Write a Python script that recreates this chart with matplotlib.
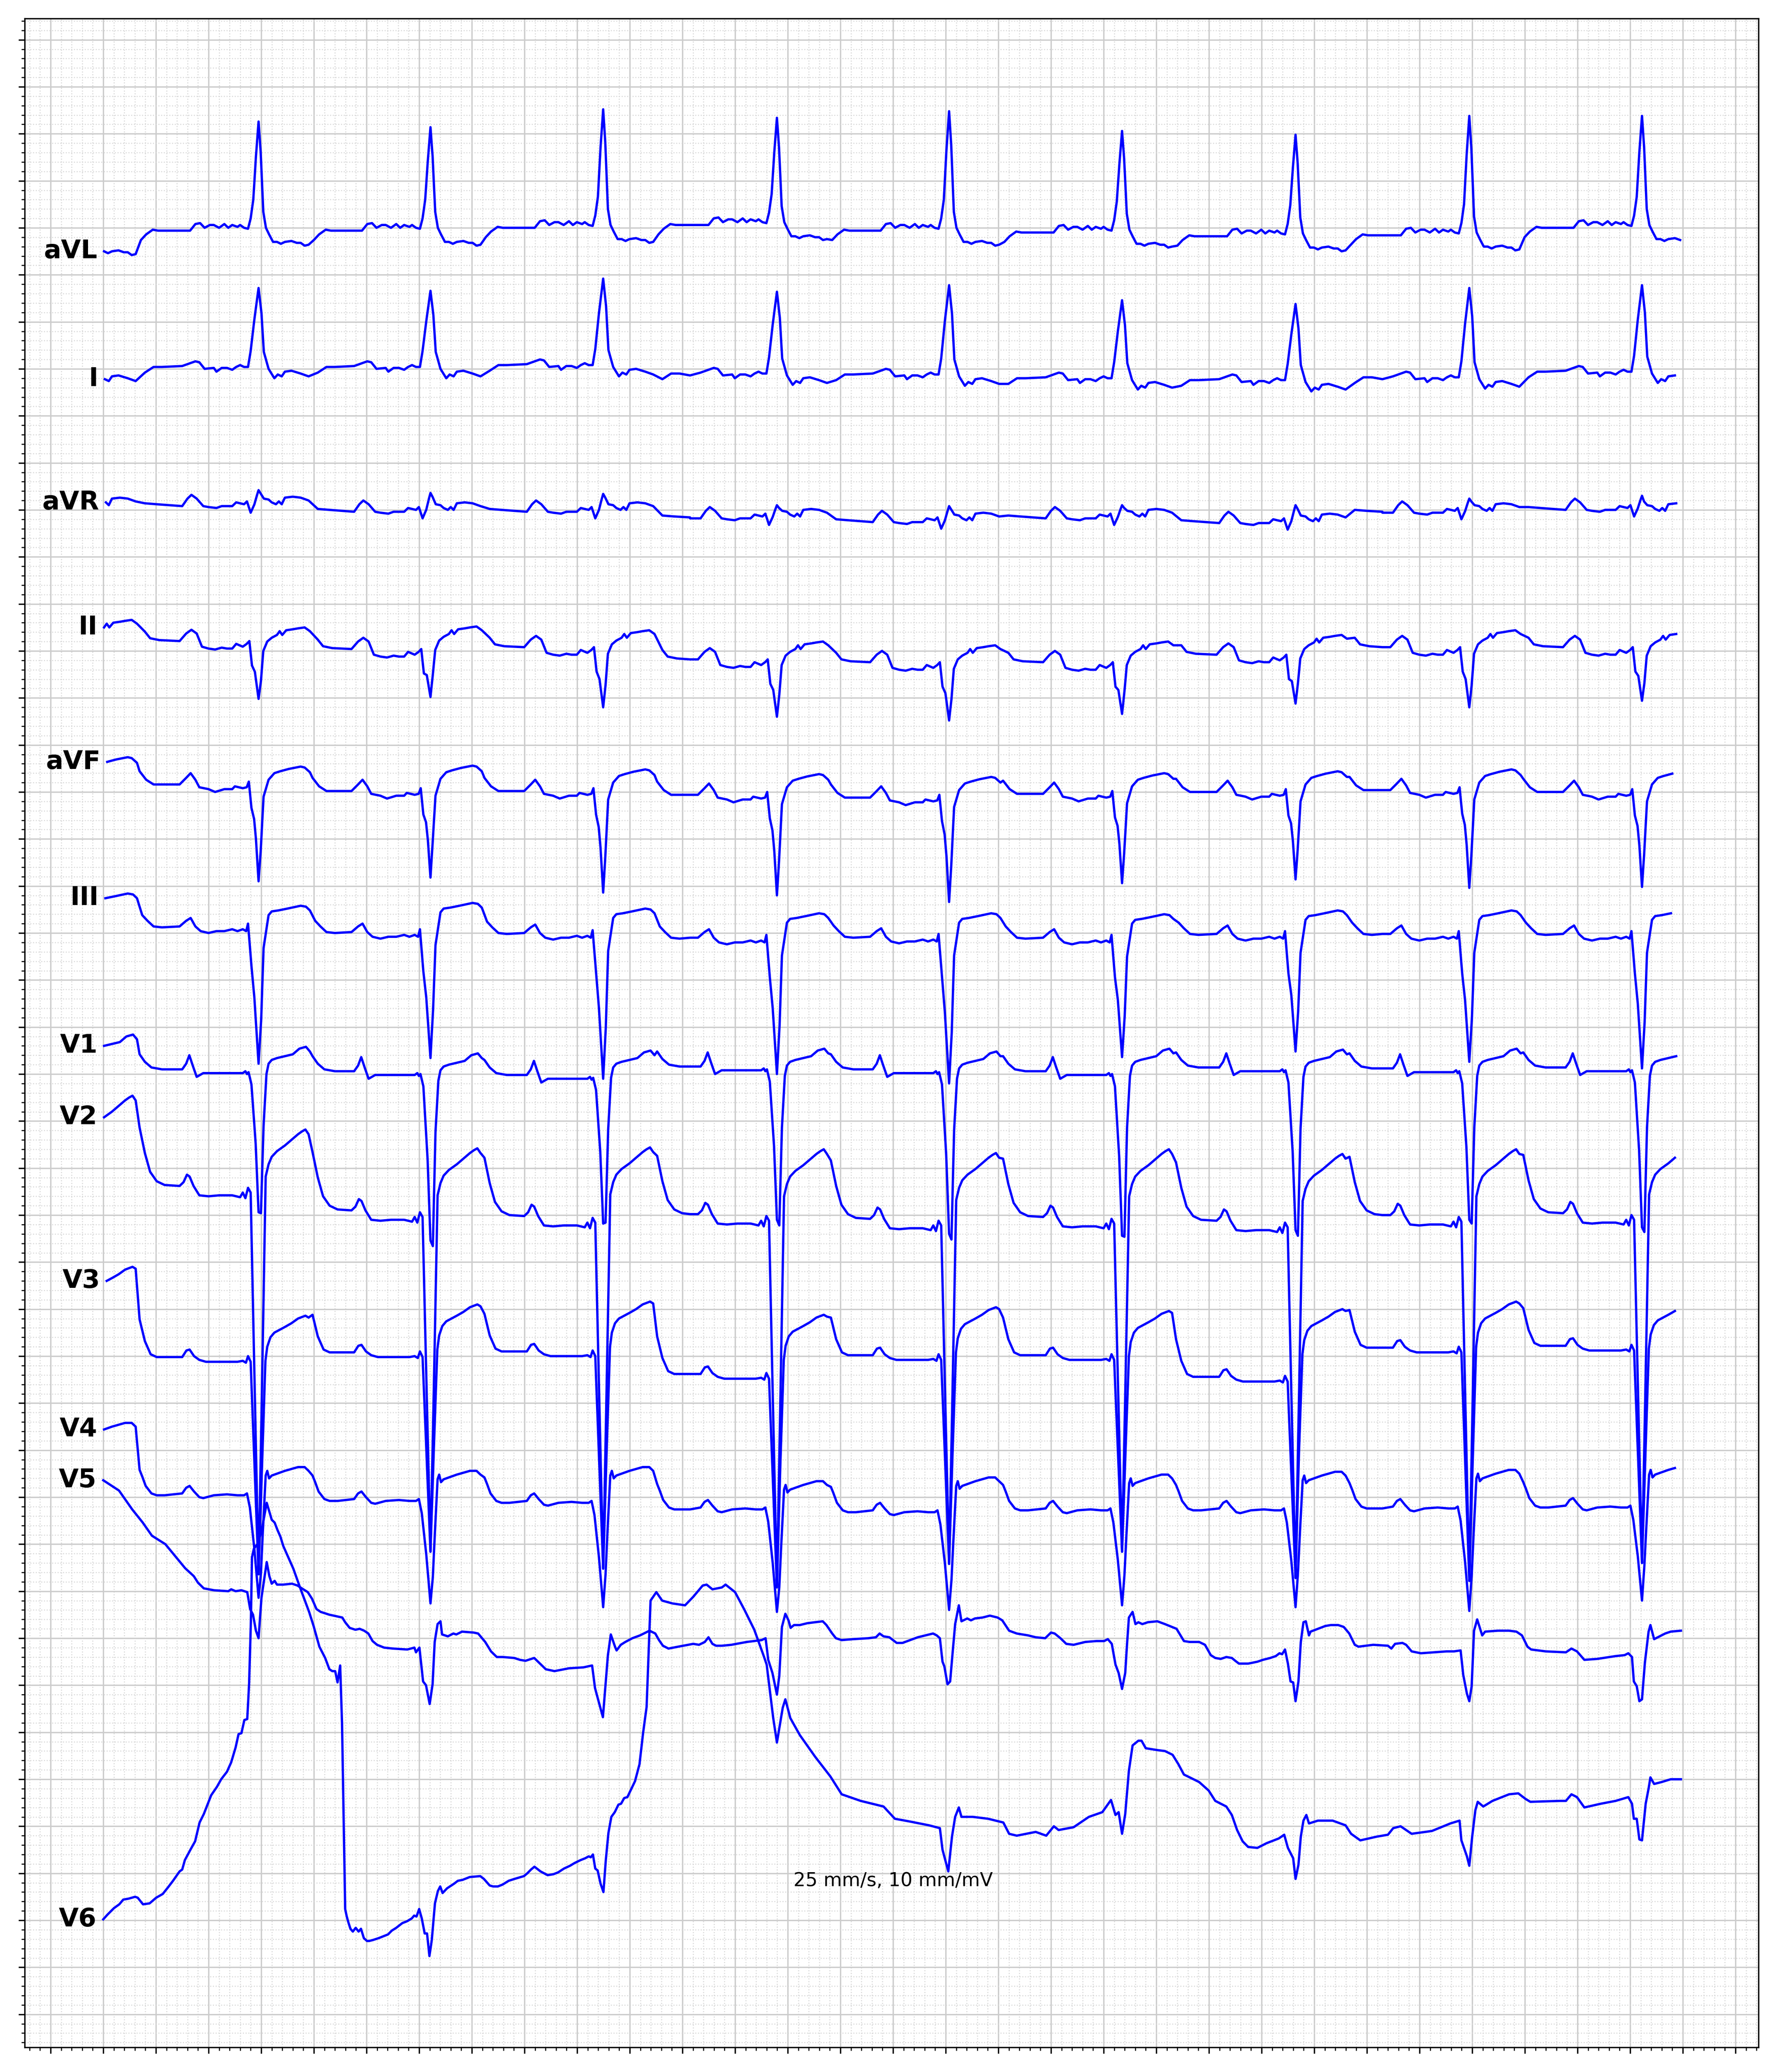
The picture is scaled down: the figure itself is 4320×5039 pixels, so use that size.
import numpy as np
import matplotlib as mpl
mpl.use('Agg')
from matplotlib import pyplot as plt
from matplotlib.ticker import MultipleLocator

# R-peak times (s), shared by every lead
r_times = [0.590, 1.243, 1.899, 2.559, 3.213, 3.870, 4.529, 5.189, 5.845]
t_last = 5.994

leads = ['aVL', 'I', 'aVR', 'II', 'aVF', 'III', 'V1', 'V2', 'V3', 'V4', 'V5', 'V6']
lead_gap = 1.5  # mV between rows

# beat shape per lead: time from R (s) and mV above the local level
# *_pr  : PR level of beats 1..9, last one is the level after the strip
# *_st  : ST-T level of beats 0..9 (beat 0 = the beat just before the strip)
# *_qrs : R / S extreme of beats 1..9
avl_dt = [-0.33, -0.29, -0.26, -0.24, -0.222, -0.205, -0.185, -0.17, -0.15, -0.13, -0.115, -0.10, -0.08,
          -0.07, -0.055, -0.04, -0.03, -0.02, -0.01, 0.0, 0.008, 0.018, 0.028, 0.04, 0.055, 0.07, 0.085,
          0.10, 0.125, 0.145, 0.16, 0.175, 0.19, 0.21, 0.23, 0.255, 0.275, 0.30, 0.33]
avl_mv = [-0.03, -0.03, -0.03, 0.04, 0.05, 0.0, 0.03, 0.03, 0.0, 0.04, 0.0, 0.03, 0.01,
          0.03, 0.0, -0.01, 0.1, 0.3, 0.75, 1.12, 0.8, 0.17, 0.0, -0.07, -0.15, -0.15, -0.17,
          -0.15, -0.14, -0.16, -0.16, -0.19, -0.18, -0.13, -0.07, -0.02, -0.03, -0.03, -0.03]
avl_pr = [0.0, 0.0, 0.03, 0.06, 0.0, -0.02, -0.06, -0.05, 0.03, 0.0]
avl_st = [-0.1, 0.0, 0.0, 0.03, 0.06, 0.0, -0.02, -0.06, -0.05, 0.03]
avl_qrs = [1.13, 1.07, 1.26, 1.17, 1.24, 1.03, 0.99, 1.19, 1.19]

i_dt = [-0.33, -0.29, -0.26, -0.24, -0.225, -0.205, -0.17, -0.16, -0.14, -0.12, -0.10, -0.085, -0.07,
        -0.055, -0.04, -0.03, -0.016, 0.0, 0.011, 0.02, 0.038, 0.06, 0.073, 0.088, 0.10, 0.125, 0.16,
        0.19, 0.225, 0.258, 0.29, 0.33]
i_mv = [0.0, 0.03, 0.06, 0.08, 0.07, 0.0, 0.01, -0.03, 0.01, 0.01, -0.01, 0.02, 0.04,
        0.02, 0.02, 0.19, 0.53, 0.87, 0.6, 0.18, 0.0, -0.1, -0.06, -0.08, -0.03, -0.02, -0.05,
        -0.08, -0.04, 0.02, 0.02, 0.0]
i_pr = [0.0, 0.0, 0.02, -0.07, -0.08, -0.12, -0.14, -0.11, -0.05, 0.0]
i_st = [-0.05, 0.0, 0.0, 0.02, -0.07, -0.08, -0.12, -0.14, -0.11, -0.05]
i_qrs = [0.86, 0.83, 0.96, 0.82, 0.89, 0.73, 0.69, 0.86, 0.89]

avr_dt = [-0.33, -0.29, -0.27, -0.255, -0.235, -0.21, -0.19, -0.16, -0.14, -0.10, -0.085, -0.055,
          -0.044, -0.03, -0.016, -0.006, 0.0, 0.008, 0.02, 0.038, 0.05, 0.066, 0.077, 0.088, 0.10,
          0.13, 0.16, 0.19, 0.225, 0.27, 0.33]
avr_mv = [0.0, 0.0, 0.08, 0.12, 0.08, 0.0, -0.01, -0.02, 0.0, 0.0, 0.04, 0.02,
          0.05, -0.07, 0.02, 0.13, 0.19, 0.15, 0.08, 0.07, 0.04, 0.02, 0.05, 0.02, 0.09,
          0.10, 0.09, 0.06, 0.03, 0.02, 0.01]
avr_pr = [0.04, -0.02, -0.02, -0.09, -0.13, -0.09, -0.14, -0.03, 0.0, 0.0]
avr_st = [0.03, 0.04, -0.02, -0.02, -0.09, -0.13, -0.09, -0.14, -0.03, -0.03]
avr_qrs = [0.21, 0.18, 0.17, 0.05, 0.04, 0.05, 0.05, 0.12, 0.15]

ii_dt = [-0.33, -0.30, -0.275, -0.255, -0.235, -0.215, -0.19, -0.165, -0.14, -0.12, -0.10, -0.085,
         -0.06, -0.045, -0.035, -0.025, -0.014, 0.0, 0.009, 0.018, 0.033, 0.05, 0.07, 0.08, 0.09,
         0.105, 0.13, 0.15, 0.175, 0.195, 0.225, 0.245, 0.28, 0.33]
ii_mv = [0.06, 0.06, 0.14, 0.18, 0.14, 0.0, -0.02, -0.03, -0.01, -0.02, -0.02, 0.03,
         0.0, 0.03, 0.06, -0.2, -0.25, -0.52, -0.3, 0.0, 0.1, 0.14, 0.17, 0.21, 0.17,
         0.22, 0.23, 0.24, 0.25, 0.21, 0.16, 0.09, 0.07, 0.06]
ii_pr = [0.045, -0.04, -0.02, -0.15, -0.18, -0.18, -0.10, -0.02, -0.02, 0.0]
ii_st = [0.08, 0.0, 0.01, -0.03, -0.15, -0.19, -0.15, -0.08, -0.03, -0.05]
ii_qrs = [-0.51, -0.49, -0.60, -0.70, -0.74, -0.67, -0.56, -0.60, -0.53]

avf_dt = [-0.33, -0.30, -0.275, -0.258, -0.24, -0.225, -0.19, -0.165, -0.13, -0.10, -0.09, -0.06,
          -0.045, -0.037, -0.027, -0.017, -0.01, 0.0, 0.008, 0.019, 0.038, 0.06, 0.082, 0.115, 0.16,
          0.175, 0.195, 0.205, 0.23, 0.258, 0.30, 0.33]
avf_mv = [0.05, 0.05, 0.12, 0.17, 0.1, 0.02, 0.0, -0.03, 0.0, 0.0, 0.03, 0.01,
          0.02, 0.08, -0.2, -0.3, -0.5, -0.93, -0.6, -0.05, 0.13, 0.2, 0.22, 0.245, 0.27,
          0.26, 0.21, 0.19, 0.1, 0.05, 0.05, 0.05]
avf_pr = [0.03, -0.04, -0.04, -0.08, -0.11, -0.07, -0.05, -0.03, -0.05, 0.0]
avf_st = [0.1, 0.0, 0.01, -0.03, -0.08, -0.11, -0.07, -0.05, -0.03, -0.05]
avf_qrs = [-0.95, -0.91, -1.07, -1.10, -1.17, -0.97, -0.93, -1.02, -1.01]

iii_dt = [-0.33, -0.30, -0.275, -0.258, -0.24, -0.22, -0.19, -0.16, -0.13, -0.10, -0.08, -0.06,
          -0.047, -0.04, -0.027, -0.016, 0.0, 0.01, 0.019, 0.038, 0.05, 0.075, 0.11, 0.16, 0.18,
          0.195, 0.215, 0.235, 0.258, 0.29, 0.33]
iii_mv = [0.05, 0.05, 0.11, 0.14, 0.05, 0.0, -0.02, 0.0, 0.0, 0.02, 0.0, 0.02,
          0.0, 0.08, -0.37, -0.7, -1.4, -0.9, -0.15, 0.2, 0.24, 0.25, 0.27, 0.3, 0.29,
          0.25, 0.17, 0.11, 0.05, 0.04, 0.05]
iii_pr = [0.02, -0.04, -0.05, -0.10, -0.09, -0.10, -0.06, -0.06, -0.06, 0.0]
iii_st = [0.12, -0.01, 0.02, -0.04, -0.09, -0.09, -0.1, -0.06, -0.06, -0.06]
iii_qrs = [-1.39, -1.33, -1.55, -1.50, -1.60, -1.32, -1.26, -1.37, -1.44]

v1_dt = [-0.33, -0.29, -0.275, -0.263, -0.25, -0.235, -0.21, -0.16, -0.12, -0.08, -0.06, -0.05,
         -0.044, -0.038, -0.027, -0.011, 0.0, 0.009, 0.019, 0.03, 0.038, 0.05, 0.07, 0.10, 0.13,
         0.155, 0.18, 0.195, 0.205, 0.225, 0.25, 0.29, 0.33]
v1_mv = [0.04, 0.04, 0.1, 0.19, 0.08, -0.04, 0.0, 0.0, 0.0, 0.0, 0.0, 0.02,
         -0.01, 0.01, -0.12, -0.76, -1.5, -1.5, -0.55, 0.0, 0.11, 0.15, 0.17, 0.19, 0.21,
         0.27, 0.29, 0.24, 0.2, 0.12, 0.06, 0.04, 0.04]
v1_pr = [0.01, -0.01, -0.05, 0.04, 0.01, -0.01, 0.03, 0.02, 0.03, 0.0]
v1_st = [0.13, 0.0, -0.07, -0.04, -0.02, -0.05, -0.02, -0.03, -0.02, -0.02]
v1_qrs = [-1.47, -1.77, -1.59, -1.55, -1.70, -1.72, -1.66, -1.55, -1.63]

v2_dt = [-0.33, -0.30, -0.285, -0.272, -0.262, -0.247, -0.225, -0.19, -0.15, -0.10, -0.07, -0.06,
         -0.05, -0.04, -0.03, -0.015, 0.0, 0.013, 0.027, 0.038, 0.05, 0.07, 0.10, 0.125, 0.15,
         0.165, 0.178, 0.19, 0.205, 0.225, 0.245, 0.27, 0.30, 0.33]
v2_mv = [0.1, 0.1, 0.14, 0.22, 0.2, 0.1, 0.0, -0.01, 0.0, 0.0, -0.02, 0.03,
         -0.03, 0.08, 0.03, -1.8, -3.6, -1.7, 0.35, 0.48, 0.56, 0.62, 0.68, 0.74, 0.8,
         0.83, 0.85, 0.8, 0.72, 0.45, 0.25, 0.15, 0.11, 0.1]
v2_pr = [0.21, -0.05, -0.11, -0.09, -0.14, -0.12, -0.16, -0.10, -0.08, 0.0]
v2_st = [0.42, 0.06, -0.14, -0.13, -0.15, -0.19, -0.15, -0.2, -0.15, -0.13]
v2_qrs = [-3.82, -3.58, -3.76, -3.96, -3.71, -3.58, -3.86, -3.89, -3.70]

v3_dt = [-0.33, -0.29, -0.274, -0.262, -0.245, -0.225, -0.20, -0.16, -0.12, -0.08, -0.06, -0.048,
         -0.04, -0.03, -0.015, 0.0, 0.013, 0.026, 0.033, 0.045, 0.06, 0.08, 0.10, 0.125, 0.15,
         0.178, 0.19, 0.205, 0.225, 0.247, 0.27, 0.30, 0.33]
v3_mv = [0.05, 0.05, 0.12, 0.13, 0.06, 0.02, 0.0, 0.0, 0.0, 0.0, 0.01, -0.01,
         0.06, 0.0, -1.15, -2.3, -1.1, 0.05, 0.2, 0.3, 0.35, 0.38, 0.41, 0.45, 0.5,
         0.53, 0.51, 0.45, 0.22, 0.08, 0.05, 0.05, 0.05]
v3_pr = [-0.06, -0.01, 0.0, -0.24, -0.04, -0.04, -0.27, 0.04, 0.06, 0.0]
v3_st = [0.42, -0.1, 0.02, 0.05, -0.09, -0.01, -0.05, -0.03, 0.05, 0.03]
v3_qrs = [-2.32, -2.08, -2.26, -2.46, -2.21, -2.08, -2.36, -2.39, -2.20]

v4_dt = [-0.33, -0.29, -0.275, -0.262, -0.245, -0.225, -0.21, -0.17, -0.12, -0.08, -0.055, -0.044,
         -0.033, -0.016, 0.0, 0.009, 0.016, 0.027, 0.033, 0.04, 0.05, 0.07, 0.10, 0.125, 0.15,
         0.175, 0.19, 0.205, 0.215, 0.228, 0.25, 0.27, 0.30, 0.33]
v4_mv = [0.0, 0.02, 0.08, 0.1, 0.04, -0.02, -0.03, 0.0, 0.01, 0.0, 0.0, 0.02,
         -0.13, -0.6, -1.15, -0.8, -0.35, 0.28, 0.33, 0.25, 0.28, 0.3, 0.33, 0.35, 0.37,
         0.37, 0.33, 0.27, 0.2, 0.1, 0.02, 0.0, 0.0, 0.0]
v4_pr = [0.02, -0.04, -0.06, -0.13, -0.16, -0.14, -0.14, -0.12, -0.11, 0.0]
v4_st = [0.42, -0.05, -0.09, -0.05, -0.2, -0.16, -0.13, -0.1, -0.08, -0.04]
v4_qrs = [-1.07, -1.13, -1.17, -1.22, -1.20, -1.15, -1.17, -1.21, -1.10]

# V5 and V6 wander too much for a beat shape, so they are read point by point
v5_t = [0.0, 0.06, 0.11, 0.15, 0.185, 0.236, 0.28, 0.311, 0.344, 0.36, 0.382, 0.421, 0.475, 0.486,
        0.503, 0.525, 0.547, 0.558, 0.569, 0.58, 0.59, 0.601, 0.621, 0.631, 0.64, 0.651, 0.66,
        0.684, 0.717, 0.738, 0.76, 0.777, 0.793, 0.81, 0.826, 0.859, 0.892, 0.908, 0.919, 0.936,
        0.958, 0.974, 0.991, 1.007, 1.023, 1.04, 1.067, 1.1, 1.155, 1.182, 1.188, 1.201, 1.215,
        1.226, 1.24, 1.251, 1.259, 1.27, 1.281, 1.287, 1.309, 1.33, 1.341, 1.363, 1.407, 1.424,
        1.451, 1.473, 1.495, 1.517, 1.561, 1.583, 1.604, 1.637, 1.659, 1.681, 1.714, 1.769, 1.824,
        1.857, 1.868, 1.898, 1.917, 1.928, 1.944, 1.95, 1.966, 1.983, 2.01, 2.039, 2.075, 2.097,
        2.111, 2.126, 2.147, 2.184, 2.241, 2.263, 2.285, 2.299, 2.314, 2.328, 2.35, 2.386, 2.444,
        2.501, 2.516, 2.526, 2.542, 2.559, 2.568, 2.578, 2.591, 2.603, 2.611, 2.624, 2.646, 2.675,
        2.704, 2.733, 2.747, 2.769, 2.783, 2.805, 2.848, 2.906, 2.935, 2.949, 2.964, 2.986, 3.014,
        3.036, 3.065, 3.094, 3.123, 3.152, 3.166, 3.178, 3.188, 3.195, 3.207, 3.217, 3.224, 3.236,
        3.25, 3.26, 3.282, 3.296, 3.311, 3.34, 3.368, 3.397, 3.415, 3.441, 3.47, 3.513, 3.542,
        3.578, 3.6, 3.614, 3.636, 3.658, 3.686, 3.73, 3.773, 3.802, 3.816, 3.831, 3.845, 3.857,
        3.87, 3.882, 3.889, 3.896, 3.91, 3.921, 3.932, 3.947, 3.968, 4.004, 4.033, 4.077, 4.105,
        4.127, 4.163, 4.185, 4.207, 4.224, 4.245, 4.266, 4.287, 4.3, 4.314, 4.349, 4.384, 4.405,
        4.433, 4.454, 4.468, 4.478, 4.489, 4.5, 4.51, 4.52, 4.529, 4.54, 4.549, 4.559, 4.568, 4.58,
        4.586, 4.614, 4.642, 4.663, 4.691, 4.712, 4.733, 4.754, 4.768, 4.824, 4.88, 4.893, 4.907,
        4.935, 4.949, 4.97, 5.005, 5.103, 5.131, 5.156, 5.166, 5.18, 5.189, 5.198, 5.207, 5.219,
        5.228, 5.238, 5.249, 5.298, 5.34, 5.368, 5.389, 5.41, 5.424, 5.479, 5.556, 5.577, 5.598,
        5.626, 5.675, 5.745, 5.779, 5.793, 5.807, 5.814, 5.825, 5.835, 5.845, 5.856, 5.87, 5.877,
        5.891, 5.905, 5.933, 5.954, 5.993]
v5_mv = [1.68, 1.57, 1.37, 1.23, 1.09, 1.0, 0.85, 0.745, 0.66, 0.59, 0.53, 0.51, 0.50, 0.52,
         0.50, 0.51, 0.49, 0.31, 0.25, 0.08, 0.0, 0.43, 0.81, 0.66, 0.58, 0.61, 0.57,
         0.57, 0.58, 0.56, 0.52, 0.49, 0.42, 0.31, 0.28, 0.25, 0.23, 0.22, 0.17, 0.11,
         0.09, 0.10, 0.08, 0.05, -0.03, -0.07, -0.10, -0.11, -0.12, -0.10, -0.15, -0.10, -0.46,
         -0.50, -0.70, -0.49, -0.04, 0.15, 0.18, 0.04, 0.02, 0.05, 0.04, 0.07, 0.06, 0.05,
         -0.04, -0.14, -0.20, -0.20, -0.21, -0.23, -0.24, -0.21, -0.27, -0.33, -0.35, -0.32, -0.31,
         -0.29, -0.53, -0.84, -0.18, 0.04, -0.09, -0.13, -0.07, -0.04, 0.0, 0.03, 0.08, 0.05,
         -0.02, -0.08, -0.11, -0.09, -0.06, -0.07, -0.04, 0.01, -0.06, -0.08, -0.08, -0.07, -0.04,
         -0.02, 0.0, -0.23, -0.37, -0.60, -0.40, 0.12, 0.26, 0.19, 0.11, 0.14, 0.14, 0.16,
         0.17, 0.18, 0.14, 0.05, 0.0, -0.02, -0.01, 0.0, 0.01, 0.05, 0.02, 0.01, -0.05,
         -0.05, -0.02, 0.01, 0.03, 0.05, 0.03, 0.0, -0.25, -0.30, -0.49, -0.46, -0.23, 0.15,
         0.35, 0.18, 0.21, 0.19, 0.21, 0.22, 0.24, 0.22, 0.19, 0.08, 0.05, 0.03, 0.01,
         0.0, 0.06, 0.05, 0.0, -0.06, -0.07, -0.04, -0.03, -0.03, -0.01, -0.06, -0.28, -0.37,
         -0.54, -0.37, -0.06, 0.22, 0.28, 0.15, 0.17, 0.15, 0.17, 0.18, 0.15, 0.10, -0.03,
         -0.04, -0.04, -0.07, -0.18, -0.21, -0.22, -0.20, -0.21, -0.24, -0.27, -0.27, -0.25, -0.23,
         -0.21, -0.19, -0.16, -0.17, -0.12, -0.27, -0.46, -0.47, -0.67, -0.46, -0.04, 0.17, 0.18, 0.03,
         0.07, 0.10, 0.13, 0.14, 0.14, 0.12, 0.05, -0.07, -0.09, -0.07, -0.08, -0.11, -0.06,
         -0.05, -0.07, -0.14, -0.16, -0.14, -0.14, -0.13, -0.39, -0.59, -0.67, -0.51, 0.08, 0.20,
         0.12, 0.03, 0.07, 0.08, 0.08, 0.07, 0.03, -0.09, -0.12, -0.14, -0.15, -0.11, -0.14,
         -0.23, -0.22, -0.19, -0.18, -0.16, -0.20, -0.46, -0.51, -0.67, -0.65, -0.26, 0.07, 0.14,
         -0.01, 0.01, 0.05, 0.07, 0.08]

v6_t = [0.0, 0.016, 0.041, 0.061, 0.076, 0.096, 0.121, 0.131, 0.151, 0.176, 0.201, 0.226, 0.246,
        0.265, 0.29, 0.30, 0.31, 0.333, 0.349, 0.366, 0.382, 0.41, 0.432, 0.448, 0.47, 0.486, 0.503,
        0.514, 0.525, 0.536, 0.547, 0.554, 0.561, 0.565, 0.572, 0.585, 0.60, 0.621, 0.64, 0.651,
        0.662, 0.673, 0.684, 0.722, 0.75, 0.782, 0.799, 0.821, 0.843, 0.859, 0.87, 0.881, 0.89,
        0.90, 0.907, 0.913, 0.919, 0.925, 0.932, 0.939, 0.948, 0.959, 0.97, 0.979, 0.99, 1.002,
        1.01, 1.024, 1.046, 1.064, 1.082, 1.096, 1.113, 1.136, 1.154, 1.172, 1.181, 1.19, 1.2,
        1.21, 1.221, 1.23, 1.239, 1.248, 1.26, 1.271, 1.28, 1.289, 1.306, 1.333, 1.347, 1.365,
        1.392, 1.432, 1.446, 1.468, 1.481, 1.499, 1.517, 1.54, 1.562, 1.598, 1.611, 1.625, 1.638,
        1.661, 1.688, 1.71, 1.728, 1.75, 1.773, 1.791, 1.813, 1.831, 1.844, 1.852, 1.86, 1.869,
        1.878, 1.889, 1.9, 1.909, 1.919, 1.93, 1.943, 1.957, 1.967, 1.979, 1.991, 2.02, 2.037,
        2.051, 2.064, 2.079, 2.101, 2.123, 2.162, 2.21, 2.241, 2.277, 2.292, 2.314, 2.35, 2.364,
        2.4, 2.436, 2.473, 2.509, 2.52, 2.545, 2.559, 2.581, 2.591, 2.61, 2.646, 2.704, 2.762,
        2.805, 2.877, 2.964, 3.007, 3.065, 3.137, 3.178, 3.188, 3.21, 3.224, 3.236, 3.25, 3.26,
        3.303, 3.361, 3.419, 3.441, 3.47, 3.542, 3.582, 3.611, 3.629, 3.686, 3.744, 3.795, 3.828,
        3.845, 3.857, 3.87, 3.882, 3.896, 3.91, 3.932, 3.944, 3.96, 4.004, 4.033, 4.062, 4.084,
        4.105, 4.127, 4.163, 4.199, 4.224, 4.266, 4.287, 4.307, 4.328, 4.349, 4.384, 4.419, 4.465,
        4.486, 4.5, 4.52, 4.529, 4.54, 4.549, 4.559, 4.57, 4.58, 4.614, 4.67, 4.719, 4.74, 4.775,
        4.838, 4.88, 4.9, 4.928, 4.97, 5.047, 5.117, 5.152, 5.159, 5.18, 5.189, 5.2, 5.212, 5.221,
        5.242, 5.277, 5.34, 5.375, 5.403, 5.421, 5.535, 5.556, 5.577, 5.598, 5.626, 5.689, 5.745,
        5.793, 5.807, 5.814, 5.825, 5.835, 5.845, 5.859, 5.87, 5.877, 5.891, 5.919, 5.954, 5.993]
v6_mv = [-1.49, -1.44, -1.37, -1.33, -1.28, -1.27, -1.25, -1.26, -1.33, -1.32, -1.26, -1.22, -1.15,
         -1.08, -0.98, -0.96, -0.86, -0.74, -0.66, -0.46, -0.37, -0.17, -0.08, 0.0, 0.08, 0.18, 0.34,
         0.48, 0.49, 0.63, 0.64, 1.01, 1.69, 2.36, 2.45, 2.5, 2.62, 2.94, 2.76, 2.73,
         2.65, 2.58, 2.48, 2.24, 2.02, 1.78, 1.63, 1.41, 1.29, 1.17, 1.15, 1.15, 1.03,
         1.21, 0.6, -0.4, -1.38, -1.46, -1.53, -1.59, -1.62, -1.58, -1.62, -1.59, -1.69, -1.72,
         -1.72, -1.71, -1.69, -1.67, -1.65, -1.61, -1.58, -1.53, -1.51, -1.48, -1.45, -1.46, -1.38,
         -1.48, -1.64, -1.64, -1.88, -1.71, -1.32, -1.19, -1.14, -1.21, -1.16, -1.11, -1.08, -1.07,
         -1.04, -1.03, -1.06, -1.13, -1.14, -1.14, -1.12, -1.08, -1.06, -1.03, -1.00, -0.96, -0.93,
         -0.98, -1.02, -1.01, -0.99, -0.95, -0.92, -0.89, -0.86, -0.84, -0.82, -0.83, -0.80, -0.95,
         -0.97, -1.11, -1.20, -0.86, -0.57, -0.40, -0.35, -0.27, -0.26, -0.20, -0.19, -0.02, 0.16,
         0.50, 0.77, 1.90, 1.99, 1.90, 1.87, 1.85, 1.94, 2.06, 2.07, 2.02, 2.04, 2.07,
         1.99, 1.80, 1.59, 1.31, 1.22, 0.65, 0.39, 0.76, 0.85, 0.65, 0.47, 0.24, 0.03,
         -0.16, -0.23, -0.29, -0.42, -0.45, -0.49, -0.52, -0.75, -0.98, -0.61, -0.40, -0.30, -0.40,
         -0.40, -0.42, -0.46, -0.58, -0.60, -0.56, -0.60, -0.50, -0.54, -0.51, -0.40, -0.35, -0.22,
         -0.38, -0.35, -0.58, -0.37, 0.09, 0.36, 0.41, 0.41, 0.33, 0.31, 0.30, 0.26, 0.16,
         0.05, 0.02, -0.03, -0.12, -0.23, -0.29, -0.38, -0.54, -0.66, -0.72, -0.73, -0.68, -0.63,
         -0.59, -0.73, -0.84, -1.06, -0.91, -0.61, -0.44, -0.38, -0.47, -0.44, -0.44, -0.49, -0.58, -0.65,
         -0.61, -0.59, -0.52, -0.50, -0.58, -0.55, -0.47, -0.44, -0.65, -0.82, -0.92, -0.61, -0.33, -0.24,
         -0.29, -0.23, -0.16, -0.15, -0.21, -0.24, -0.23, -0.23, -0.16, -0.19, -0.30, -0.26, -0.23,
         -0.19, -0.26, -0.42, -0.42, -0.64, -0.65, -0.26, -0.10, 0.02, -0.05, -0.03, 0.0, 0.0]

shape_leads = {
    'aVL': (avl_dt, avl_mv, avl_pr, avl_st, avl_qrs),
    'I': (i_dt, i_mv, i_pr, i_st, i_qrs),
    'aVR': (avr_dt, avr_mv, avr_pr, avr_st, avr_qrs),
    'II': (ii_dt, ii_mv, ii_pr, ii_st, ii_qrs),
    'aVF': (avf_dt, avf_mv, avf_pr, avf_st, avf_qrs),
    'III': (iii_dt, iii_mv, iii_pr, iii_st, iii_qrs),
    'V1': (v1_dt, v1_mv, v1_pr, v1_st, v1_qrs),
    'V2': (v2_dt, v2_mv, v2_pr, v2_st, v2_qrs),
    'V3': (v3_dt, v3_mv, v3_pr, v3_st, v3_qrs),
    'V4': (v4_dt, v4_mv, v4_pr, v4_st, v4_qrs),
}
point_leads = {'V5': (v5_t, v5_mv), 'V6': (v6_t, v6_mv)}


def beat_trace(dts, mvs, pr, st, qrs, t_end=0.2):
    ''' lays the beat shape on every R peak, with the levels of that beat '''
    rr = (r_times[-1] - r_times[0]) / (len(r_times) - 1)
    rs = [r_times[0] - rr] + r_times
    peak = mvs[dts.index(0.0)]
    ts, vs = [], []
    for b, r in enumerate(rs):
        lo = 0.0 if b == 0 else (rs[b - 1] + r) / 2
        hi = t_last if b == len(rs) - 1 else (r + rs[b + 1]) / 2
        for dt, v in zip(dts, mvs):
            t = r + dt
            if t < lo or t > hi:
                continue
            if dt <= 0:
                base = pr[b - 1]
            elif dt < t_end:
                base = st[b]
            else:
                base = pr[b]
            if b > 0 and abs(dt) <= 0.0171:
                v = v * (qrs[b - 1] - pr[b - 1]) / peak
            ts.append(t)
            vs.append(base + v)
    return ts, vs


fig = plt.figure(figsize=(4320 / 300, 5039 / 300), dpi=300)
ax = fig.add_axes([60 / 4320, 60 / 5039, 4215 / 4320, 4934.4 / 5039])

for k, name in enumerate(leads):
    off = -lead_gap * k
    if name in shape_leads:
        ts, vs = beat_trace(*shape_leads[name])
    else:
        ts, vs = point_leads[name]
    ys = [off + v for v in vs]
    ax.plot(ts, ys, color='#0000ff', linewidth=1.35, zorder=3)
    ax.text(ts[0] - 0.025, ys[0], name, ha='right', va='center',
            fontsize=15, fontweight='bold', color='black')

ax.text(3.0, -17.58, '25 mm/s, 10 mm/mV', ha='center', va='center', fontsize=11)

ax.set_xlim(-0.2984, 6.2875)
ax.set_ylim(-19.351, 2.2277)
ax.xaxis.set_major_locator(MultipleLocator(0.2))
ax.xaxis.set_minor_locator(MultipleLocator(0.04))
ax.yaxis.set_major_locator(MultipleLocator(0.5))
ax.yaxis.set_minor_locator(MultipleLocator(0.1))
ax.grid(which='major', color='#cccccc', linewidth=0.8)
ax.grid(which='minor', color='#d6d6d6', linestyle=':', linewidth=0.6)
ax.set_axisbelow(True)
ax.tick_params(which='both', labelbottom=False, labelleft=False)

fig.savefig('out.png', dpi=300)
